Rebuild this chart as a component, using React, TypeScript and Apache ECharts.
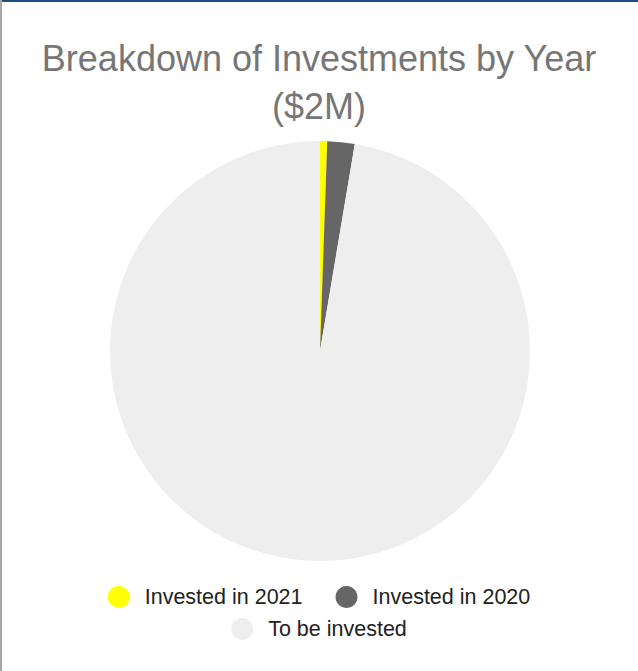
import React, { useEffect, useRef } from "react";
import * as echarts from "echarts";

const categories = ["Invested in 2021", "Invested in 2020", "To be invested"];
const values = [0.55, 2.1, 97.35];
const colors = ["#ffff00", "#666666", "#eeeeee"];
const titleText = "Breakdown of Investments by Year\n($2M)";
const FONT = "'Liberation Sans', Arial, sans-serif";

export default function App() {
  const ref = useRef<HTMLDivElement>(null);
  useEffect(() => {
    if (!ref.current) return;
    const chart = echarts.init(ref.current, undefined, { renderer: "svg" });
    chart.setOption({
      animation: false,
      backgroundColor: "#ffffff",
      title: {
        text: titleText,
        left: "center",
        top: 29,
        textStyle: {
          fontFamily: FONT,
          fontSize: 36,
          fontWeight: "normal",
          color: "#767676",
          lineHeight: 48,
        },
      },
      legend: [
        {
          data: categories.slice(0, 2),
          left: "center",
          top: 581,
          icon: "circle",
          itemWidth: 22,
          itemHeight: 22,
          itemGap: 33,
          selectedMode: false,
          textStyle: {
            fontFamily: FONT,
            fontSize: 21.5,
            color: "#222222",
            padding: [0, 0, 0, 10],
          },
        },
        {
          data: categories.slice(2),
          left: "center",
          top: 613,
          icon: "circle",
          itemWidth: 22,
          itemHeight: 22,
          selectedMode: false,
          textStyle: {
            fontFamily: FONT,
            fontSize: 21.5,
            color: "#222222",
            padding: [0, 0, 0, 10],
          },
        },
      ],
      graphic: [
        { type: "rect", shape: { x: 0, y: 0, width: 638, height: 2 }, style: { fill: "#1f4e80" }, z: 100 },
        { type: "rect", shape: { x: 0, y: 0, width: 2, height: 671 }, style: { fill: "#a8a8a8" }, z: 100 },
      ],
      series: [
        {
          type: "pie",
          center: [320, 351],
          radius: 210,
          startAngle: 90,
          clockwise: true,
          label: { show: false },
          labelLine: { show: false },
          silent: true,
          itemStyle: { borderWidth: 0 },
          data: categories.map((name, i) => ({
            name,
            value: values[i],
            itemStyle: { color: colors[i] },
          })),
        },
      ],
    });
    return () => chart.dispose();
  }, []);
  return (
    <div
      ref={ref}
      style={{ position: "fixed", left: 0, top: 0, width: 638, height: 671 }}
    />
  );
}
